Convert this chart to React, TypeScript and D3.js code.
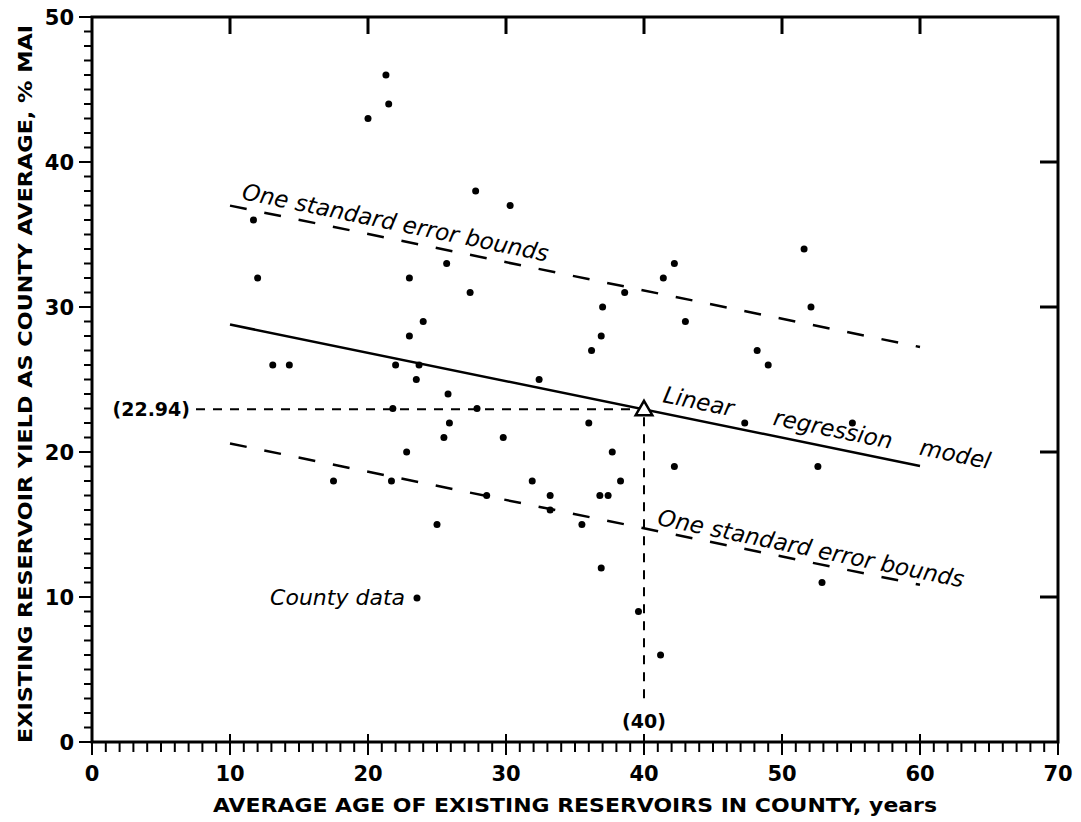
import React from 'react';
import * as d3 from 'd3';

// county data points (age in years, yield in % MAI)
const countyAge = [
  11.7, 12.0, 13.1, 14.3, 17.5, 20.0, 21.3, 21.5, 21.7, 21.8,
  22.0, 22.8, 23.0, 23.0, 23.5, 23.7, 24.0, 25.0, 25.5, 25.7,
  25.8, 25.9, 27.4, 27.8, 27.9, 28.6, 29.8, 30.3, 31.9, 32.4,
  33.2, 33.2, 35.5, 36.0, 36.2, 36.9, 36.9, 36.8, 37.4, 37.0,
  37.7, 38.3, 38.6, 39.6, 41.2, 41.4, 42.2, 42.2, 43.0, 47.3,
  48.2, 49.0, 51.6, 52.1, 52.6, 52.9, 55.1
];
const countyYield = [
  36, 32, 26, 26, 18, 43, 46, 44, 18, 23,
  26, 20, 28, 32, 25, 26, 29, 15, 21, 33,
  24, 22, 31, 38, 23, 17, 21, 37, 18, 25,
  17, 16, 15, 22, 27, 28, 12, 17, 17, 30,
  20, 18, 31, 9, 6, 32, 33, 19, 29, 22,
  27, 26, 34, 30, 19, 11, 22
];

// regression model
const regIntercept = 30.74;
const regSlope = -0.195;
const stdError = 8.2;
const regRange = [10, 60];
const estimate = { age: 40, yield: 22.94 };

const xTickValues = [0, 10, 20, 30, 40, 50, 60, 70];
const yTickValues = [0, 10, 20, 30, 40, 50];

const W = 1081;
const H = 822;
const left = 92, right = 1058, top = 17, bottom = 742;

const fontBold = '"DejaVu Sans", sans-serif';

export default function App() {
  const x = d3.scaleLinear().domain([0, 70]).range([left, right]);
  const y = d3.scaleLinear().domain([0, 50]).range([bottom, top]);

  const fit = (a: number, off: number) => regIntercept + off + regSlope * a;
  const lineFor = (off: number) =>
    d3.line<number>().x(a => x(a)).y(a => y(fit(a, off)))(regRange) as string;

  const angle =
    (Math.atan2(y(fit(60, 0)) - y(fit(10, 0)), x(60) - x(10)) * 180) / Math.PI;

  const labelOn = (a: number, off: number, lift: number, text: string, key: string) => {
    const px = x(a);
    const py = y(fit(a, off)) - lift;
    return (
      <text
        key={key}
        x={px}
        y={py}
        transform={`rotate(${angle},${px},${py})`}
        fontFamily='"DejaVu Sans", sans-serif'
        fontStyle="italic"
        fontSize={23}
      >
        {text}
      </text>
    );
  };

  const minorX = d3.range(0, 71, 1);
  const minorY = d3.range(0, 51, 1);

  const ex = x(estimate.age);
  const ey = y(estimate.yield);
  const tri = d3.symbol().type(d3.symbolTriangle).size(120)() as string;

  return (
    <svg width={W} height={H} style={{ position: 'absolute', left: 0, top: 0, background: '#fff' }}>
      {/* frame */}
      <rect x={left} y={top} width={right - left} height={bottom - top} fill="none" stroke="#000" strokeWidth={3} />

      {/* bottom axis ticks */}
      {minorX.map(v => (
        <line key={'bx' + v} x1={x(v)} x2={x(v)}
          y1={v % 10 === 0 ? bottom - 8 : bottom}
          y2={v % 10 === 0 ? bottom + 13 : bottom + 10}
          stroke="#000" strokeWidth={2} />
      ))}
      {/* top axis ticks (inward) */}
      {xTickValues.slice(1, -1).map(v => (
        <line key={'tx' + v} x1={x(v)} x2={x(v)} y1={top} y2={top + 17} stroke="#000" strokeWidth={3} />
      ))}
      {/* left axis ticks */}
      {minorY.map(v => (
        <line key={'ly' + v} y1={y(v)} y2={y(v)}
          x1={v % 10 === 0 ? left - 13 : left - 8} x2={left}
          stroke="#000" strokeWidth={2} />
      ))}
      {/* right axis ticks (inward) */}
      {yTickValues.slice(1, -1).map(v => (
        <line key={'ry' + v} y1={y(v)} y2={y(v)} x1={right - 18} x2={right} stroke="#000" strokeWidth={3} />
      ))}

      {/* tick labels */}
      {xTickValues.map(v => (
        <text key={'xl' + v} x={x(v)} y={781} textAnchor="middle"
          fontFamily={fontBold} fontWeight="bold" fontSize={21}>{v}</text>
      ))}
      {yTickValues.map(v => (
        <text key={'yl' + v} x={74} y={y(v) + 8} textAnchor="end"
          fontFamily={fontBold} fontWeight="bold" fontSize={21}>{v}</text>
      ))}

      {/* axis titles */}
      <text x={(left + right) / 2} y={812} textAnchor="middle" fontFamily={fontBold}
        fontWeight="bold" fontSize={20} textLength={724} lengthAdjust="spacingAndGlyphs">
        AVERAGE AGE OF EXISTING RESERVOIRS IN COUNTY, years
      </text>
      <text transform="translate(32,384) rotate(-90)" textAnchor="middle" fontFamily={fontBold}
        fontWeight="bold" fontSize={20} textLength={718} lengthAdjust="spacingAndGlyphs">
        EXISTING RESERVOIR YIELD AS COUNTY AVERAGE, % MAI
      </text>

      {/* regression and error bounds */}
      <path d={lineFor(0)} fill="none" stroke="#000" strokeWidth={2.5} />
      <path d={lineFor(stdError)} fill="none" stroke="#000" strokeWidth={2.5} strokeDasharray="17 18" />
      <path d={lineFor(-stdError)} fill="none" stroke="#000" strokeWidth={2.5} strokeDasharray="17 18" />

      {/* estimate crosshair */}
      <path d={d3.line<number>().x(v => v).y(() => ey)([196, ex - 9]) as string}
        fill="none" stroke="#000" strokeWidth={2} strokeDasharray="9 8" />
      <path d={d3.line<number>().x(() => ex).y(v => v)([ey + 8, 704]) as string}
        fill="none" stroke="#000" strokeWidth={2} strokeDasharray="9 8" />
      <text x={190} y={ey + 7} textAnchor="end" fontFamily={fontBold} fontWeight="bold" fontSize={19}>
        ({estimate.yield})
      </text>
      <text x={ex} y={728} textAnchor="middle" fontFamily={fontBold} fontWeight="bold" fontSize={19}>
        ({estimate.age})
      </text>

      {/* data */}
      {countyAge.map((a, i) => (
        <circle key={'p' + i} cx={x(a)} cy={y(countyYield[i])} r={3.5} fill="#000" />
      ))}

      <path d={tri} transform={`translate(${ex},${ey + 1})`} fill="#fff" stroke="#000" strokeWidth={2.5} />

      {/* annotations */}
      {labelOn(10.8, stdError, 9, 'One standard error bounds', 'u')}
      {labelOn(40.9, -stdError, 6, 'One standard error bounds', 'l')}
      {labelOn(41.3, 0, 11, 'Linear', 'r1')}
      {labelOn(49.3, 0, 11, 'regression', 'r2')}
      {labelOn(59.9, 0, 11, 'model', 'r3')}

      <text x={405} y={605} textAnchor="end" fontFamily='"DejaVu Sans", sans-serif'
        fontStyle="italic" fontSize={22}>County data</text>
      <circle cx={417} cy={598} r={3.5} fill="#000" />
    </svg>
  );
}
